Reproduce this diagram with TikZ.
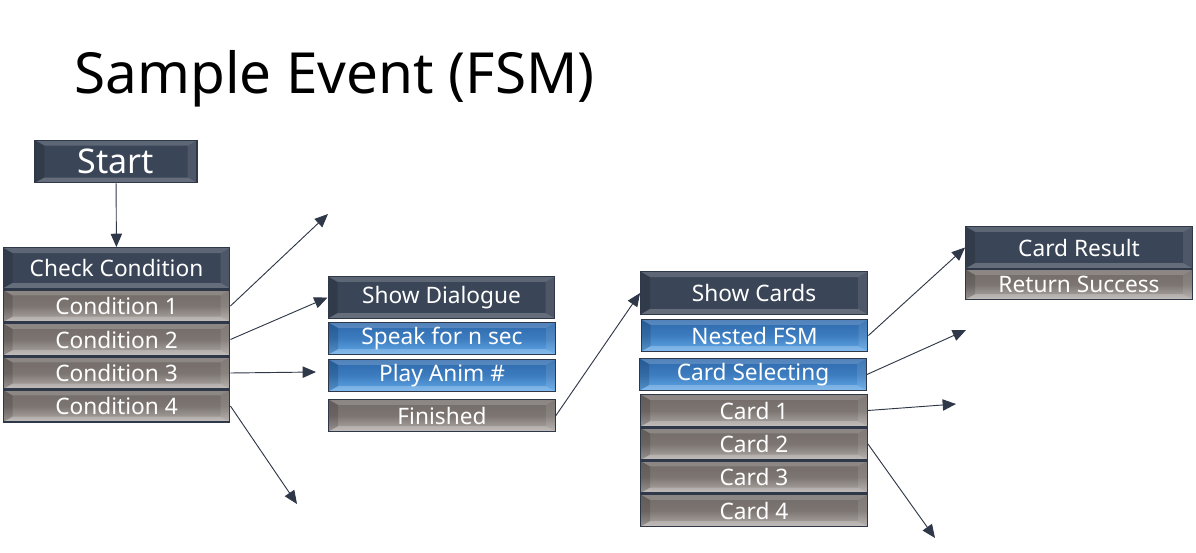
\documentclass[tikz,border=0pt]{standalone}
\usepackage{fontspec}
\setmainfont{Noto Sans}
\usetikzlibrary{arrows.meta,positioning}
\definecolor{navy}{HTML}{3A4557}
\definecolor{edge}{HTML}{2F3848}
\definecolor{gtop}{HTML}{726B68}
\definecolor{gbot}{HTML}{B2ACA9}
\definecolor{btop}{HTML}{2C69AC}
\definecolor{bbot}{HTML}{62A9EA}
\tikzset{
  bev/.style={path picture={
    \fill[black,opacity=.14] (path picture bounding box.north west) -- ++(7pt,-4pt)
      -- ([xshift=7pt,yshift=4pt]path picture bounding box.south west)
      -- (path picture bounding box.south west) -- cycle;
    \fill[white,opacity=.10] (path picture bounding box.north east) -- ++(-7pt,-4pt)
      -- ([xshift=-7pt,yshift=4pt]path picture bounding box.south east)
      -- (path picture bounding box.south east) -- cycle;
    \fill[white,opacity=.18] (path picture bounding box.north west) -- ++(7pt,-4pt)
      -- ([xshift=-7pt,yshift=-4pt]path picture bounding box.north east)
      -- (path picture bounding box.north east) -- cycle;
    \fill[white,opacity=.22] (path picture bounding box.south west) -- ++(7pt,4pt)
      -- ([xshift=-7pt,yshift=4pt]path picture bounding box.south east)
      -- (path picture bounding box.south east) -- cycle;}},
  head/.style={draw=edge,line width=0.9pt,fill=navy,text=white,inner sep=0pt,bev,
    minimum width=170pt,minimum height=31.5pt,font=\fontsize{17}{20}\selectfont},
  item/.style={draw=edge,line width=0.9pt,top color=gtop,bottom color=gbot,
    middle color=gtop!85!gbot,text=white,inner sep=0pt,bev,
    minimum width=170pt,minimum height=24pt,font=\fontsize{17}{20}\selectfont},
  act/.style={item,top color=btop,bottom color=bbot,middle color=btop!70!bbot},
  arr/.style={draw=edge,line width=0.7pt,-{Triangle[length=10pt,width=8.5pt]}},
}
\begin{document}
\begin{tikzpicture}[x=0.75pt,y=-0.75pt]
  \useasboundingbox (0,0) rectangle (1196,553);
  \node[anchor=base west,inner sep=0pt,font=\fontsize{42.5}{48}\selectfont] (title) at (74,93) {Sample Event (FSM)};
  % first column
  \node[head,minimum width=121.5pt,minimum height=32pt,font=\fontsize{25.5}{30}\selectfont] (start) at (116,161.5) {Start};
  \node[head,minimum height=30.5pt] (check) at (116.5,268) {Check Condition};
  \node[item] (c1) at (116.5,306) {Condition 1};
  \node[item] (c2) at (116.5,339.5) {Condition 2};
  \node[item] (c3) at (116.5,373) {Condition 3};
  \node[item] (c4) at (116.5,406) {Condition 4};
  % dialogue
  \node[head] (dlg) at (441.5,297.5) {Show Dialogue};
  \node[act] (speak) at (442,338.5) {Speak for n sec};
  \node[act] (anim) at (442,375.5) {Play Anim \#};
  \node[item] (fin) at (442,415.5) {Finished};
  % cards
  \node[head,minimum height=32pt] (cards) at (754,293) {Show Cards};
  \node[act] (nested) at (754.5,335.5) {Nested FSM};
  \node[act] (sel) at (753,374.5) {Card Selecting};
  \node[item] (k1) at (754,410.5) {Card 1};
  \node[item] (k2) at (754,444) {Card 2};
  \node[item] (k3) at (754,477) {Card 3};
  \node[item] (k4) at (754,510.5) {Card 4};
  % result
  \node[head] (res) at (1079,247.5) {Card Result};
  \node[item,minimum height=22.5pt] (succ) at (1079,284.5) {Return Success};
  % loose ends
  \coordinate (e1) at (328,214);
  \coordinate (e3) at (316,372);
  \coordinate (e4) at (297,504);
  \coordinate (e5) at (966,330);
  \coordinate (e6) at (956,404);
  \coordinate (e7) at (935,538);
  \draw[arr] (start) -- (check);
  \draw[arr] (c1.east) -- (e1);
  \draw[arr] (c2.east) -- (dlg.west);
  \draw[arr] (c3.east) -- (e3);
  \draw[arr] (c4.east) -- (e4);
  \draw[arr] (fin.east) -- (cards.west);
  \draw[arr] (nested.east) -- (res.west);
  \draw[arr] (sel.east) -- (e5);
  \draw[arr] (k1.east) -- (e6);
  \draw[arr] (k2.east) -- (e7);
\end{tikzpicture}
\end{document}
